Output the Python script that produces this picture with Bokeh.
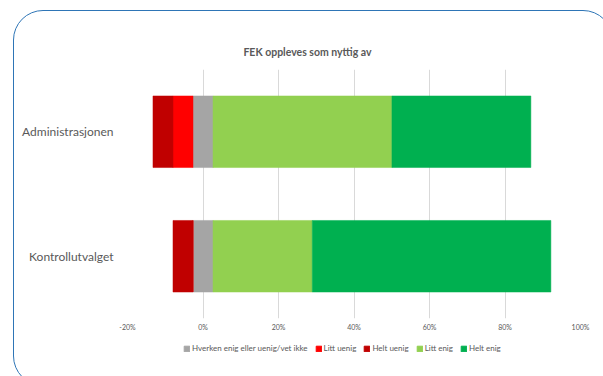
from bokeh.plotting import figure
from bokeh.layouts import column
from bokeh.models import (ColumnDataSource, Range1d, FactorRange, FixedTicker, Legend, LegendItem,
                          InlineStyleSheet, Label)
from bokeh.embed import file_html
from bokeh.resources import INLINE

# ---- data ----
categories = ["Administrasjonen", "Kontrollutvalget"]
hverken = [5.3, 5.3]       # Hverken enig eller uenig/vet ikke
litt_uenig = [5.3, 0.0]
helt_uenig = [5.3, 5.3]
litt_enig = [47.4, 26.3]
helt_enig = [36.8, 63.2]
tick_values = [-20, 0, 20, 40, 60, 80, 100]
tick_labels = ["-20%", "0%", "20%", "40%", "60%", "80%", "100%"]
series_names = ["Hverken enig eller uenig/vet ikke", "Litt uenig", "Helt uenig", "Litt enig", "Helt enig"]
colors = ["#A5A5A5", "#FF0000", "#C00000", "#92D050", "#00B050"]
title_text = "FEK oppleves som nyttig av"

# ---- derived stacking (diverging, neutral split around zero) ----
g_l = [-h / 2 for h in hverken]
g_r = [h / 2 for h in hverken]
lu_l = [a - b for a, b in zip(g_l, litt_uenig)]
hu_l = [a - b for a, b in zip(lu_l, helt_uenig)]
le_r = [a + b for a, b in zip(g_r, litt_enig)]
he_r = [a + b for a, b in zip(le_r, helt_enig)]

segments = [
    (g_l, g_r),
    (lu_l, g_l),
    (hu_l, lu_l),
    (g_r, le_r),
    (le_r, he_r),
]

FONT = "Lato"
TXT = "#595959"
BORDERS = dict(min_border_left=127, min_border_right=23)


def bare(fig):
    fig.axis.visible = False
    fig.grid.grid_line_color = None
    fig.outline_line_color = None
    fig.background_fill_color = "white"
    fig.border_fill_color = "white"


# ---- title strip ----
t = figure(width=603, height=60, output_backend="svg", toolbar_location=None,
           x_range=Range1d(127, 580), y_range=Range1d(60, 0),
           min_border_top=0, min_border_bottom=0, **BORDERS)
bare(t)
t.add_layout(Label(x=307, y=51, text=title_text, text_align="center", text_baseline="middle",
                   text_font=FONT, text_font_style="bold", text_font_size="10.5px", text_color=TXT))

# ---- chart ----
p = figure(width=603, height=276, output_backend="svg", toolbar_location=None,
           x_range=Range1d(-20, 100), y_range=FactorRange(factors=categories[::-1]),
           min_border_top=9, min_border_bottom=18, **BORDERS)
p.outline_line_color = None
p.background_fill_color = "white"
p.border_fill_color = "white"

sources = []
for (lft, rgt), c in zip(segments, colors):
    src = ColumnDataSource(dict(y=categories, left=lft, right=rgt))
    sources.append(src)
    p.hbar(y="y", left="left", right="right", height=0.575, source=src,
           fill_color=c, line_color=c, line_width=0.5)

p.xaxis.ticker = FixedTicker(ticks=tick_values)
p.xaxis.major_label_overrides = {v: l for v, l in zip(tick_values, tick_labels)}
p.xaxis.axis_line_color = None
p.xaxis.major_tick_line_color = None
p.xaxis.minor_tick_line_color = None
p.xaxis.major_tick_out = 0
p.xaxis.major_tick_in = 0
p.xaxis.major_label_text_font = FONT
p.xaxis.major_label_text_font_size = "7px"
p.xaxis.major_label_text_color = TXT
p.xaxis.major_label_standoff = 4

p.yaxis.axis_line_color = None
p.yaxis.major_tick_line_color = None
p.yaxis.minor_tick_line_color = None
p.yaxis.major_tick_out = 0
p.yaxis.major_tick_in = 0
p.yaxis.major_label_text_font = FONT
p.yaxis.major_label_text_font_size = "12px"
p.yaxis.major_label_text_color = TXT
p.yaxis.major_label_standoff = 14

p.xgrid.grid_line_color = "#D9D9D9"
p.xgrid.ticker = FixedTicker(ticks=tick_values)
p.ygrid.grid_line_color = None

# ---- legend strip (hidden copies of the series, only their legend swatches show) ----
lg = figure(width=603, height=40, output_backend="svg", toolbar_location=None,
            x_range=Range1d(-20, 100), y_range=FactorRange(factors=categories[::-1]),
            min_border_top=0, min_border_bottom=0, **BORDERS)
bare(lg)
leg_renderers = []
for src, c in zip(sources, colors):
    r = lg.hbar(y="y", left="left", right="right", height=0.575, source=src,
                fill_color=c, line_color=c, visible=False)
    leg_renderers.append(r)
items = [LegendItem(label=n, renderers=[r]) for n, r in zip(series_names, leg_renderers)]
legend = Legend(items=items, orientation="horizontal", location=(56, 23),
                label_text_font=FONT, label_text_font_size="8px", label_text_color=TXT,
                glyph_width=7, glyph_height=7, label_standoff=2, spacing=7,
                padding=0, margin=0, border_line_color=None, background_fill_alpha=0,
                inactive_fill_alpha=0)
lg.add_layout(legend, "center")

frame_css = InlineStyleSheet(css="""
:host::after {
  content: "";
  position: fixed;
  left: 13px; top: 10px; width: 600px; height: 376px;
  border: 1.5px solid #2E75B6;
  border-radius: 30px;
  box-sizing: border-box;
  pointer-events: none;
}
""")

layout = column(t, p, lg, spacing=0, stylesheets=[frame_css])

open("out.html", "w").write(file_html(layout, INLINE))
